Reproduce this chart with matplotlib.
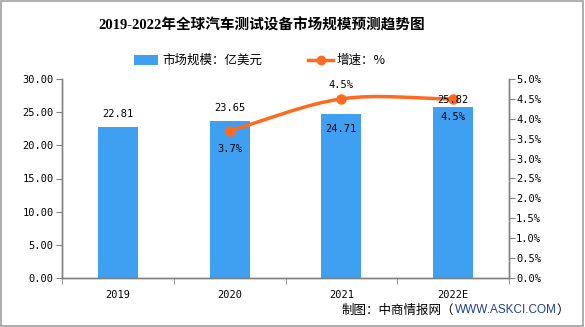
import numpy as np
import matplotlib
matplotlib.use('Agg')
import matplotlib.pyplot as plt
from matplotlib.path import Path
from matplotlib.patches import PathPatch, Rectangle
from matplotlib.lines import Line2D

plt.rcParams['font.family'] = ['DejaVu Sans', 'Noto Sans CJK SC']

# 数据
years = ['2019', '2020', '2021', '2022E']
market_size = [22.81, 23.65, 24.71, 25.82]   # 亿美元
growth_years = [1, 2, 3]                     # 2020 起才有增速
growth = [3.7, 4.5, 4.5]                     # %
growth_labels = ['3.7%', '4.5%', '4.5%']

BLUE = '#3F9FF0'
ORANGE = '#FF6A1F'
GRID = '#808080'
MONO = ['DejaVu Sans Mono', 'Noto Sans CJK SC']
CJK = ['Noto Sans CJK SC']
W, H = 585, 327


def fx(px):
    return px / W


def fy(py):
    return 1 - py / H


fig = plt.figure(figsize=(5.85, 3.27), dpi=100)
ax = fig.add_axes([fx(62), fy(278), fx(509 - 62), (278 - 79) / H])
ax2 = ax.twinx()

x = np.arange(len(years))
ax.bar(x, market_size, width=0.36, color=BLUE, zorder=2)
ax.set_xlim(-0.5, len(years) - 0.5)
ax.set_ylim(0, 30)
ax.set_yticks(np.arange(0, 30.1, 5))
ax.set_yticklabels([f'{v:.2f}' for v in np.arange(0, 30.1, 5)], family=MONO, fontsize=7.5)
ax.set_xticks(x)
ax.set_xticklabels(years, family=MONO, fontsize=7.5)
ax.set_xticks(np.arange(-0.5, len(years)), minor=True)
ax.tick_params(axis='x', which='major', length=0, pad=9)
ax.tick_params(axis='x', which='minor', length=4, color=GRID, direction='out')
ax.tick_params(axis='y', length=4, color=GRID, pad=2)

ax2.set_ylim(0, 5)
pct = np.arange(0, 5.01, 0.5)
ax2.set_yticks(pct)
ax2.set_yticklabels([f'{v:.1f}%' for v in pct], family=MONO, fontsize=7.5)
ax2.tick_params(axis='y', length=4, color=GRID, pad=1)

for a in (ax, ax2):
    a.spines['top'].set_visible(False)
    for s in ('left', 'right', 'bottom'):
        a.spines[s].set_color(GRID)
        a.spines[s].set_linewidth(1)

# 平滑曲线（Catmull-Rom -> Bezier，控制点由数据计算）
P = np.array(list(zip(growth_years, growth)), dtype=float)
P[:, 1] *= 30 / 5  # 换算到左轴坐标画曲线
ext = np.vstack([P[0] - (P[1] - P[0]), P, P[-1] + (P[-1] - P[-2])])
verts = [tuple(P[0])]
codes = [Path.MOVETO]
for i in range(1, len(ext) - 2):
    p0, p1, p2, p3 = ext[i - 1], ext[i], ext[i + 1], ext[i + 2]
    c1 = p1 + (p2 - p0) / 6
    c2 = p2 - (p3 - p1) / 6
    verts += [tuple(c1), tuple(c2), tuple(p2)]
    codes += [Path.CURVE4] * 3
ax.add_patch(PathPatch(Path(verts, codes), fill=False, edgecolor=ORANGE, lw=2.5, zorder=4))
ax.plot(P[:, 0], P[:, 1], 'o', color=ORANGE, ms=6.5, zorder=5)

# 柱子数值标签
bar_offsets = [1.2, 1.2, -2.3, 0.3]
for i, v in enumerate(market_size):
    ax.text(i, v + bar_offsets[i], f'{v:.2f}', ha='center', va='bottom' if bar_offsets[i] > 0 else 'center',
            family=MONO, fontsize=7.5, zorder=6)

# 增速标签
growth_offsets = [-0.45, 0.35, -0.45]
for gx, g, lab, off in zip(growth_years, growth, growth_labels, growth_offsets):
    ax2.text(gx, g + off, lab, ha='center', va='center', family=MONO, fontsize=7.5, zorder=6)

# 标题
fig.text(fx(262), fy(25), '2019-2022年全球汽车测试设备市场规模预测趋势图', ha='center', va='center',
         fontsize=10.5, fontweight='bold', family=['Liberation Serif', 'Noto Sans CJK SC'])

# 图例（手工排布）
fig.patches.append(Rectangle((fx(134), fy(65)), fx(24), 10 / H, transform=fig.transFigure,
                             facecolor=BLUE, edgecolor='none'))
fig.text(fx(162), fy(60), '市场规模：亿美元', ha='left', va='center', fontsize=9, family=CJK)
fig.add_artist(Line2D([fx(308), fx(333)], [fy(60), fy(60)], color=ORANGE, lw=2.5,
                      transform=fig.transFigure))
fig.add_artist(Line2D([fx(320.5)], [fy(60)], color=ORANGE, marker='o', ms=6,
                      transform=fig.transFigure))
fig.text(fx(337), fy(60), '增速：%', ha='left', va='center', fontsize=9, family=CJK)

# 来源
t1 = fig.text(fx(342), fy(310), '制图：中商情报网（', ha='left', va='center', fontsize=9, family=CJK)
t2 = fig.text(0, 0, 'WWW.ASKCI.COM', ha='left', va='center', fontsize=8.5,
              family=['Liberation Sans'], color='#1F3F8F')
fig.canvas.draw()
r = fig.canvas.get_renderer()
b1 = t1.get_window_extent(r)
t2.set_position((b1.x1 / fig.bbox.width, fy(310)))
b2 = t2.get_window_extent(r)
fig.text(b2.x1 / fig.bbox.width, fy(310), '）', ha='left', va='center', fontsize=9, family=CJK)

# 外框
fig.patches.append(Rectangle((0.002, 0.004), 0.994, 0.993, transform=fig.transFigure, fill=False,
                             edgecolor='#A0A0A0', lw=1.2))

fig.savefig('out.png', dpi=100)
